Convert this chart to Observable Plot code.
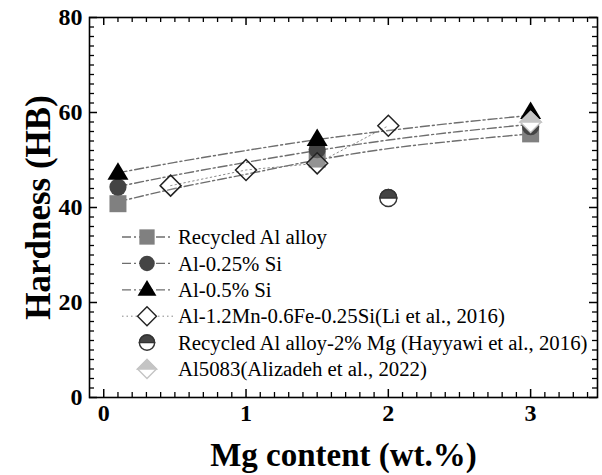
<!DOCTYPE html>
<html>
<head>
<meta charset="utf-8">
<script src="https://cdn.jsdelivr.net/npm/d3@7"></script>
<script src="https://cdn.jsdelivr.net/npm/@observablehq/plot@0.6"></script>
<style>
  body { margin: 0; background: #fff; }
  #wrap { position: relative; width: 602px; height: 475px; }
  #wrap svg { position: absolute; left: 0; top: 0; }
</style>
</head>
<body>
<div id="wrap"></div>
<script>
// ---------------- data ----------------
const seriesNames = [
  "Recycled Al alloy",
  "Al-0.25% Si",
  "Al-0.5% Si",
  "Al-1.2Mn-0.6Fe-0.25Si(Li et al., 2016)",
  "Recycled Al alloy-2% Mg (Hayyawi et al., 2016)",
  "Al5083(Alizadeh et al., 2022)"
];
const mgMain = [0.1, 1.5, 3];
const hbRecycled = [40.8, 50.2, 55.5];
const hbSi025 = [44.3, 52.2, 57.0];
const hbSi05 = [47.2, 54.3, 60.0];
const mgLi = [0.47, 1.0, 1.5, 2.0];
const hbLi = [44.6, 47.9, 49.3, 57.2];
const mgHayyawi = [2.0];
const hbHayyawi = [42.0];
const mgAlizadeh = [3.0];
const hbAlizadeh = [58.0];
// trend (fit) curves
const fitX = [0.1, 0.5, 1.0, 1.5, 2.0, 2.5, 3.0];
const fitRecycled = [41.2, 44.0, 47.0, 50.0, 52.4, 54.1, 55.5];
const fitSi025 = [44.4, 46.8, 49.5, 52.0, 54.2, 56.0, 57.5];
const fitSi05 = [47.3, 49.5, 52.0, 54.3, 56.2, 57.9, 59.4];
// axis ticks
const xTickLabels = [0, 1, 2, 3];
const yTickLabels = [0, 20, 40, 60, 80];
const xMinor = d3.range(1, 35).map(i => i / 10).filter(v => Math.abs(v - Math.round(v)) > 1e-9);
const yMinor = d3.range(2, 80, 2).filter(v => v % 20 !== 0);

// --------------- symbols ---------------
function makeSymbols(k) {
  return {
    square: {draw(c) { const s = 8.5 * k; c.rect(-s, -s, 2 * s, 2 * s); }},
    circle: {draw(c) { const r = 8.6 * k; c.moveTo(r, 0); c.arc(0, 0, r, 0, 2 * Math.PI); }},
    triangle: {draw(c) { c.moveTo(0, -11 * k); c.lineTo(10.5 * k, 6.5 * k); c.lineTo(-10.5 * k, 6.5 * k); c.closePath(); }},
    diamond: {draw(c) { const d = 10.5 * k; c.moveTo(0, -d); c.lineTo(d, 0); c.lineTo(0, d); c.lineTo(-d, 0); c.closePath(); }},
    diamondTop: {draw(c) { const d = 10.5 * k; c.moveTo(-d, 0); c.lineTo(0, -d); c.lineTo(d, 0); c.closePath(); }},
    halfCircle: {draw(c) { const r = 8.5 * k; c.moveTo(r, 0); c.arc(0, 0, r, 0, 2 * Math.PI); }},
    halfTop: {draw(c) { const r = 8.5 * k; c.moveTo(-r, 0); c.arc(0, 0, r, Math.PI, 2 * Math.PI); c.closePath(); }}
  };
}
const sym = makeSymbols(1);

const rows = (xs, ys) => xs.map((x, i) => ({x, y: ys[i]}));
const FONT = "Liberation Serif, Times New Roman, serif";
const W = 602, H = 475, mL = 89, mR = 5, mT = 17, mB = 78;
const fw = W - mL - mR, fh = H - mT - mB;
const lineColor = "#6e6e6e";
const dashDot = "9,3,2,3";

const plot = Plot.plot({
  width: W, height: H,
  marginLeft: mL, marginRight: mR, marginTop: mT, marginBottom: mB,
  style: {fontFamily: FONT, background: "#fff", color: "#000"},
  x: {domain: [-0.1, 3.47]},
  y: {domain: [0, 80]},
  marks: [
    // fit lines
    Plot.line(rows(fitX, fitRecycled), {x: "x", y: "y", curve: "monotone-x", stroke: lineColor, strokeWidth: 1.4, strokeDasharray: dashDot}),
    Plot.line(rows(fitX, fitSi025), {x: "x", y: "y", curve: "monotone-x", stroke: lineColor, strokeWidth: 1.4, strokeDasharray: dashDot}),
    Plot.line(rows(fitX, fitSi05), {x: "x", y: "y", curve: "monotone-x", stroke: lineColor, strokeWidth: 1.4, strokeDasharray: dashDot}),
    Plot.line(rows(mgLi, hbLi), {x: "x", y: "y", curve: "linear", stroke: "#888", strokeWidth: 1, strokeDasharray: "1.5,3"}),
    // points
    Plot.dot(rows(mgMain, hbRecycled), {x: "x", y: "y", symbol: sym.square, fill: "#808080", stroke: "none", r: 5}),
    Plot.dot(rows(mgMain, hbSi025), {x: "x", y: "y", symbol: sym.circle, fill: "#444", stroke: "none", r: 5}),
    Plot.dot(rows(mgMain, hbSi05), {x: "x", y: "y", symbol: sym.triangle, fill: "#000", stroke: "none", r: 5}),
    Plot.dot(rows(mgLi, hbLi), {x: "x", y: "y", symbol: sym.diamond, fill: "#fff", fillOpacity: 0.15, stroke: "#222", strokeWidth: 1.5, r: 5}),
    Plot.dot(rows(mgHayyawi, hbHayyawi), {x: "x", y: "y", symbol: sym.halfCircle, fill: "#fff", stroke: "#333", strokeWidth: 1.4, r: 5}),
    Plot.dot(rows(mgHayyawi, hbHayyawi), {x: "x", y: "y", symbol: sym.halfTop, fill: "#444", stroke: "#333", strokeWidth: 1.4, r: 5}),
    Plot.dot(rows(mgAlizadeh, hbAlizadeh), {x: "x", y: "y", symbol: sym.diamond, fill: "#fff", stroke: "#c4c4c4", strokeWidth: 1.4, r: 5}),
    Plot.dot(rows(mgAlizadeh, hbAlizadeh), {x: "x", y: "y", symbol: sym.diamondTop, fill: "#c4c4c4", stroke: "#c4c4c4", strokeWidth: 1.4, r: 5}),
    // inward ticks, all four sides
    Plot.tickX(xMinor, {x: d => d, insetTop: fh - 5, stroke: "#000", strokeWidth: 1.3}),
    Plot.tickX(xMinor, {x: d => d, insetBottom: fh - 5, stroke: "#000", strokeWidth: 1.3}),
    Plot.tickX(xTickLabels, {x: d => d, insetTop: fh - 8, stroke: "#000", strokeWidth: 1.5}),
    Plot.tickX(xTickLabels, {x: d => d, insetBottom: fh - 8, stroke: "#000", strokeWidth: 1.5}),
    Plot.tickY(yMinor, {y: d => d, insetRight: fw - 5, stroke: "#000", strokeWidth: 1.3}),
    Plot.tickY(yMinor, {y: d => d, insetLeft: fw - 5, stroke: "#000", strokeWidth: 1.3}),
    Plot.tickY(yTickLabels, {y: d => d, insetRight: fw - 8, stroke: "#000", strokeWidth: 1.5}),
    Plot.tickY(yTickLabels, {y: d => d, insetLeft: fw - 8, stroke: "#000", strokeWidth: 1.5}),
    Plot.frame({stroke: "#000", strokeWidth: 1.6}),
    // tick labels
    Plot.axisX({ticks: xTickLabels, tickFormat: d => String(d), tickSize: 0, tickPadding: 6, label: null, fontSize: 24, fontWeight: "bold", fontFamily: FONT, fill: "#000"}),
    Plot.axisY({ticks: yTickLabels, tickFormat: d => String(d), tickSize: 0, tickPadding: 7, label: null, fontSize: 24, fontWeight: "bold", fontFamily: FONT, fill: "#000"}),
    // axis titles
    Plot.text(["Mg content (wt.%)"], {text: d => d, frameAnchor: "bottom", textAnchor: "middle", lineAnchor: "middle", dy: 58, fontSize: 33, fontWeight: "bold", fontFamily: FONT, fill: "#000"}),
    Plot.text(["Hardness (HB)"], {text: d => d, frameAnchor: "left", textAnchor: "middle", lineAnchor: "middle", dx: -51, rotate: -90, fontSize: 35, fontWeight: "bold", fontFamily: FONT, fill: "#000"})
  ]
});
const wrap = document.getElementById("wrap");
wrap.appendChild(plot);

// --------------- legend overlay ---------------
const lsym = makeSymbols(0.9);
const legendItems = [
  {name: seriesNames[0], line: dashDot, parts: [{s: lsym.square, fill: "#808080", stroke: "none"}]},
  {name: seriesNames[1], line: dashDot, parts: [{s: lsym.circle, fill: "#444", stroke: "none"}]},
  {name: seriesNames[2], line: dashDot, parts: [{s: lsym.triangle, fill: "#000", stroke: "none"}]},
  {name: seriesNames[3], line: "1.5,3", parts: [{s: lsym.diamond, fill: "#fff", stroke: "#222"}]},
  {name: seriesNames[4], line: null, parts: [{s: lsym.halfCircle, fill: "#fff", stroke: "#333"}, {s: lsym.halfTop, fill: "#444", stroke: "#333"}]},
  {name: seriesNames[5], line: null, parts: [{s: lsym.diamond, fill: "#fff", stroke: "#c4c4c4"}, {s: lsym.diamondTop, fill: "#c4c4c4", stroke: "#c4c4c4"}]}
];
const leg = d3.select(wrap).append("svg").attr("width", W).attr("height", H).style("pointer-events", "none");
legendItems.forEach((it, i) => {
  const y = 237 + i * 26.4;
  const g = leg.append("g").attr("transform", `translate(0,${y})`);
  if (it.line) {
    g.append("line").attr("x1", 122).attr("x2", 173).attr("y1", 0).attr("y2", 0)
      .attr("stroke", it.line === dashDot ? lineColor : "#888").attr("stroke-width", it.line === dashDot ? 1.3 : 1)
      .attr("stroke-dasharray", it.line);
  }
  it.parts.forEach(p => {
    const path = d3.path(); p.s.draw(path);
    g.append("path").attr("d", path.toString()).attr("transform", "translate(147,0)")
      .attr("fill", p.fill).attr("stroke", p.stroke).attr("stroke-width", 1.4);
  });
  g.append("text").attr("x", 178).attr("y", 0).attr("dy", "0.35em")
    .attr("font-family", FONT).attr("font-size", 20.8).attr("fill", "#000").text(it.name);
});
</script>
</body>
</html>
